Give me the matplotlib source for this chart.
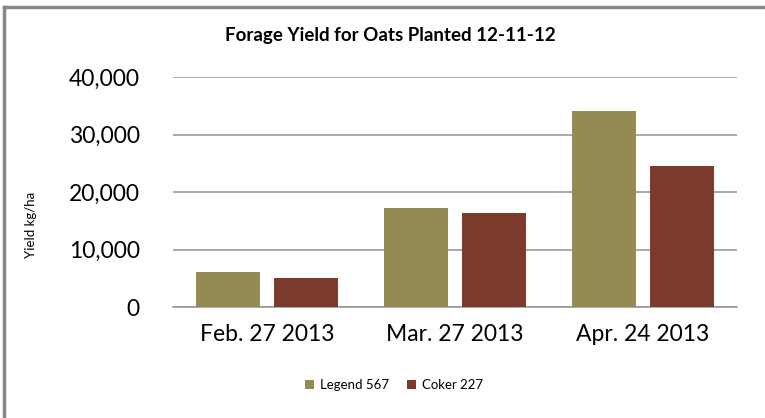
import matplotlib
matplotlib.use("Agg")
import matplotlib.pyplot as plt
import numpy as np
from matplotlib.lines import Line2D
from matplotlib.ticker import FuncFormatter

categories = ["Feb. 27 2013", "Mar. 27 2013", "Apr. 24 2013"]
series_names = ["Legend 567", "Coker 227"]
legend_567 = [6100, 17250, 34150]
coker_227 = [5100, 16300, 24600]
yticks = [0, 10000, 20000, 30000, 40000]

colors = ["#948A54", "#7B3A2B"]

plt.rcParams['font.family'] = ['Lato', 'DejaVu Sans']

fig = plt.figure(figsize=(7.65, 4.18), dpi=100)
ax = fig.add_axes([173/765, 1-307.3/418, (737-173)/765, (307.3-77)/418])

x = np.arange(len(categories))
w = 0.34
off = 0.206
ax.bar(x - off, legend_567, w, color=colors[0], label=series_names[0], zorder=3)
ax.bar(x + off, coker_227, w, color=colors[1], label=series_names[1], zorder=3)

ax.set_xlim(-0.5, 2.5)
ax.set_ylim(0, 40000)
ax.set_yticks(yticks)
ax.yaxis.set_major_formatter(FuncFormatter(lambda v, p: f"{int(v):,}"))
ax.grid(axis='y', color='#999999', linewidth=1.2, zorder=0)
ax.set_xticks(x)
ax.set_xticklabels(categories)
for s in ['top', 'right', 'left']:
    ax.spines[s].set_visible(False)
ax.spines['bottom'].set_color('#999999')
ax.spines['bottom'].set_linewidth(1.2)
ax.tick_params(axis='both', length=0, labelsize=16.5, colors='black')
ax.tick_params(axis='y', pad=24)
ax.tick_params(axis='x', pad=12)

fig.text(390/765, 1-35/418, "Forage Yield for Oats Planted 12-11-12",
         ha='center', va='center', fontsize=13.5, fontweight='bold')
fig.text(31/765, 1-225/418, "Yield kg/ha", rotation=90, ha='center', va='center',
         fontsize=9.5)

leg = fig.legend(loc='center', bbox_to_anchor=(394/765, 1-385/418), ncol=2,
                 frameon=False, fontsize=9.5, handlelength=0.7, handleheight=0.7,
                 handletextpad=0.4, columnspacing=1.4)

# outer border (gray)
fig.add_artist(Line2D([4/765, 4/765], [0, 1-7/418], color='#888888', lw=2.5,
                      transform=fig.transFigure))
fig.add_artist(Line2D([4/765, 1], [1-7/418, 1-7/418], color='#888888', lw=2.5,
                      transform=fig.transFigure))

fig.savefig("out.png", dpi=100)
